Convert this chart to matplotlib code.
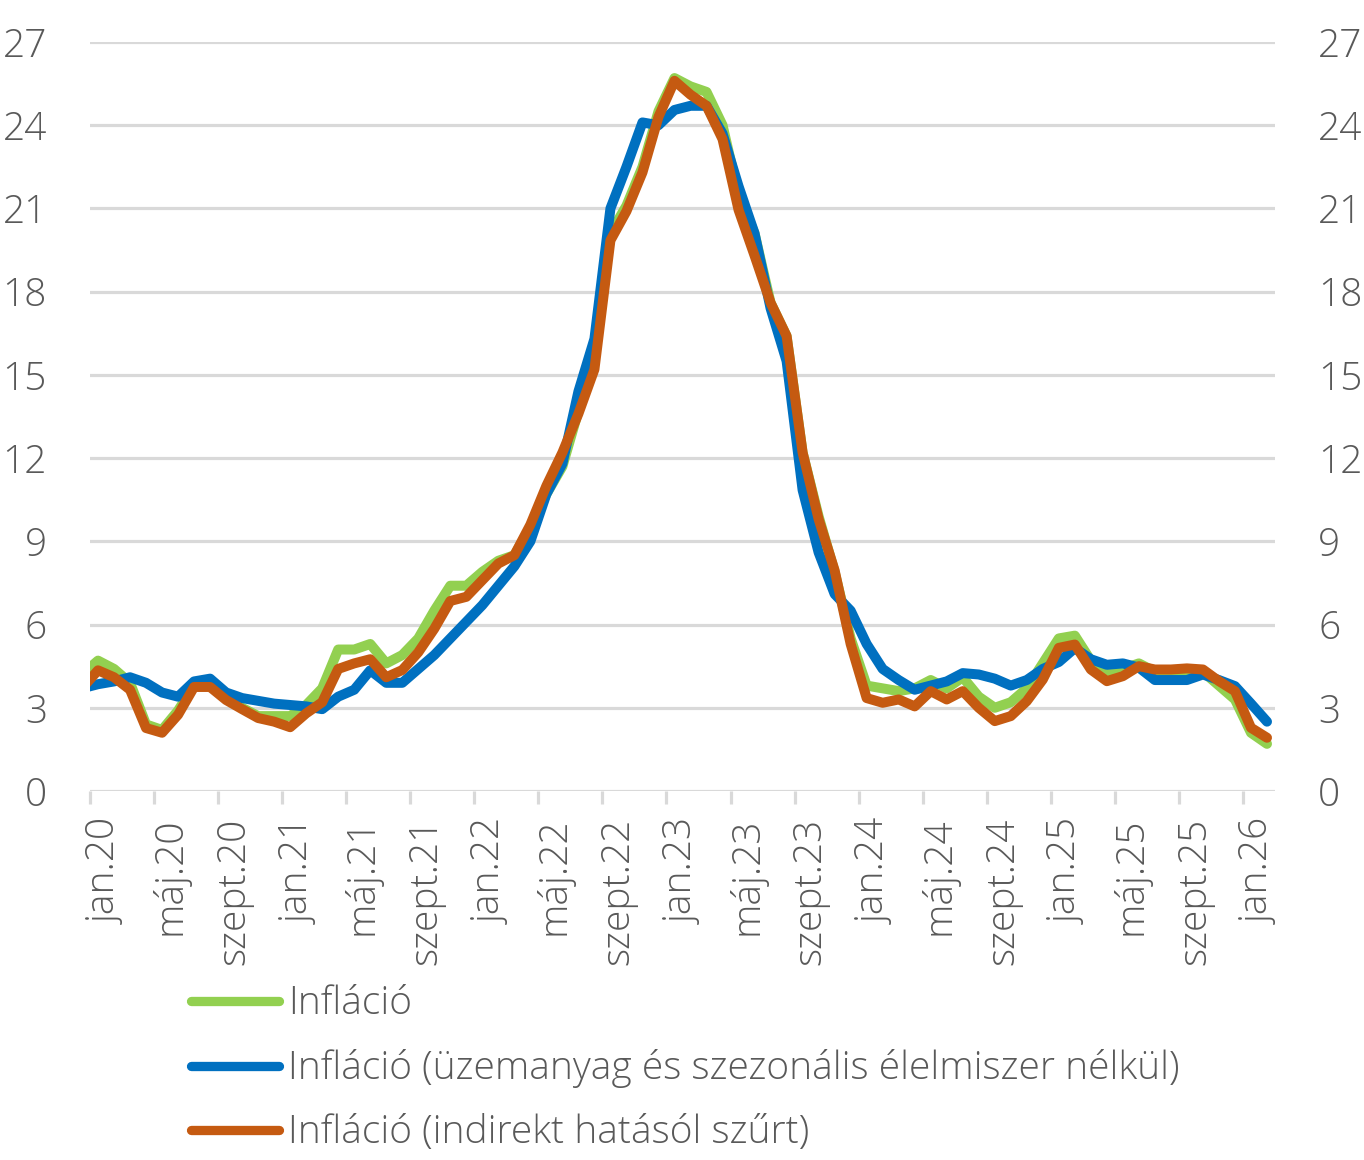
import matplotlib
matplotlib.use('Agg')
import matplotlib.pyplot as plt

# havi adatok: 2019. dec - 2026. febr. (éves változás, %)
inflacio = [
    4.2,
    4.7, 4.4, 3.9, 2.4, 2.2, 2.9, 3.8, 3.9, 3.4, 3.0, 2.7, 2.7,
    2.7, 3.1, 3.7, 5.1, 5.1, 5.3, 4.6, 4.9, 5.5, 6.5, 7.4, 7.4,
    7.9, 8.3, 8.5, 9.5, 10.7, 11.7, 13.7, 15.6, 20.1, 21.1, 22.5, 24.5,
    25.7, 25.4, 25.2, 24.0, 21.5, 20.1, 17.6, 16.4, 12.2, 9.9, 7.9, 5.5,
    3.8, 3.7, 3.6, 3.7, 4.0, 3.7, 4.1, 3.4, 3.0, 3.2, 3.7, 4.6,
    5.5, 5.6, 4.7, 4.2, 4.4, 4.6, 4.3, 4.3, 4.3, 4.3, 3.8, 3.3,
    2.1, 1.7,
]
uzemanyag_nelkul = [
    3.7,
    3.85, 3.95, 4.1, 3.9, 3.55, 3.4, 3.95, 4.05, 3.55, 3.35, 3.25, 3.15,
    3.1, 3.05, 2.95, 3.4, 3.65, 4.35, 3.9, 3.9, 4.4, 4.9, 5.5, 6.1,
    6.7, 7.4, 8.1, 9.0, 10.7, 11.8, 14.4, 16.3, 21.0, 22.5, 24.1, 24.0,
    24.55, 24.7, 24.7, 23.7, 21.8, 20.1, 17.4, 15.5, 10.85, 8.6, 7.1, 6.5,
    5.3, 4.4, 4.0, 3.65, 3.8, 3.95, 4.25, 4.2, 4.05, 3.8, 4.0, 4.4,
    4.65, 5.15, 4.75, 4.55, 4.6, 4.45, 4.0, 4.0, 4.0, 4.2, 4.0, 3.78,
    3.15, 2.5,
]
indirekt_szurt = [
    3.7,
    4.35, 4.1, 3.65, 2.27, 2.1, 2.75, 3.75, 3.75, 3.28, 2.95, 2.63, 2.5,
    2.3, 2.8, 3.2, 4.4, 4.6, 4.75, 4.1, 4.36, 5.0, 5.85, 6.85, 7.0,
    7.6, 8.2, 8.5, 9.6, 11.0, 12.2, 13.6, 15.2, 19.85, 20.9, 22.3, 24.3,
    25.6, 25.1, 24.7, 23.5, 20.95, 19.3, 17.6, 16.4, 12.2, 9.8, 7.95, 5.3,
    3.35, 3.18, 3.3, 3.05, 3.6, 3.3, 3.6, 3.0, 2.52, 2.7, 3.24, 4.02,
    5.16, 5.28, 4.38, 3.96, 4.14, 4.5, 4.38, 4.38, 4.42, 4.38, 3.96, 3.6,
    2.28, 1.92,
]
tick_labels = ['jan.20', 'máj.20', 'szept.20', 'jan.21', 'máj.21', 'szept.21',
               'jan.22', 'máj.22', 'szept.22', 'jan.23', 'máj.23', 'szept.23',
               'jan.24', 'máj.24', 'szept.24', 'jan.25', 'máj.25', 'szept.25',
               'jan.26']
series_names = ['Infláció',
                'Infláció (üzemanyag és szezonális élelmiszer nélkül)',
                'Infláció (indirekt hatásól szűrt)']
colors = ['#92D050', '#0070C0', '#C55A11']

plt.rcParams['font.family'] = ['Open Sans', 'DejaVu Sans']
plt.rcParams['font.weight'] = 'light'
text_color = '#595959'
grid_color = '#D9D9D9'
fs = 28

W, H = 1364, 1160
fig = plt.figure(figsize=(W / 100, H / 100), dpi=100)
ax = fig.add_axes([90 / W, (H - 791) / H, (1275 - 90) / W, (791 - 42) / H])

# a pontok a hónap közepén vannak, az első (2019. dec.) kilóg balra
x = [i - 0.5 for i in range(len(inflacio))]
for ys, name, c in zip([inflacio, uzemanyag_nelkul, indirekt_szurt], series_names, colors):
    ax.plot(x, ys, color=c, lw=7.2, label=name,
            solid_capstyle='round', solid_joinstyle='round')

ax.set_xlim(0, 74)
ax.set_ylim(0, 27)
ax.set_yticks(range(0, 28, 3))
ax.yaxis.grid(True, color=grid_color, lw=2.3)
ax.set_axisbelow(True)
for s in ax.spines.values():
    s.set_visible(False)

mark_pos = [4 * k for k in range(len(tick_labels))]
ax.set_xticks(mark_pos, minor=True)
ax.set_xticks([p + 1 for p in mark_pos], tick_labels, rotation=90)
ax.tick_params(axis='x', which='minor', length=9, width=2.3, color=grid_color)
ax.tick_params(axis='x', which='major', length=0, pad=19, labelsize=fs,
               labelcolor=text_color)
for lbl in ax.get_xticklabels():
    lbl.set_verticalalignment('top')
ax.tick_params(axis='y', length=0, pad=31, labelsize=fs, labelcolor=text_color,
               labelleft=True, labelright=True)

leg = ax.legend(loc='upper left', bbox_to_anchor=(191 / W, 1 - 985 / H),
                bbox_transform=fig.transFigure, frameon=False, fontsize=fs,
                handlelength=2.25, handletextpad=0.25, labelspacing=0.66,
                borderpad=0, borderaxespad=0)
for t in leg.get_texts():
    t.set_color(text_color)
for h in leg.get_lines():
    h.set_linewidth(6.7)

fig.savefig('out.png', dpi=100)
